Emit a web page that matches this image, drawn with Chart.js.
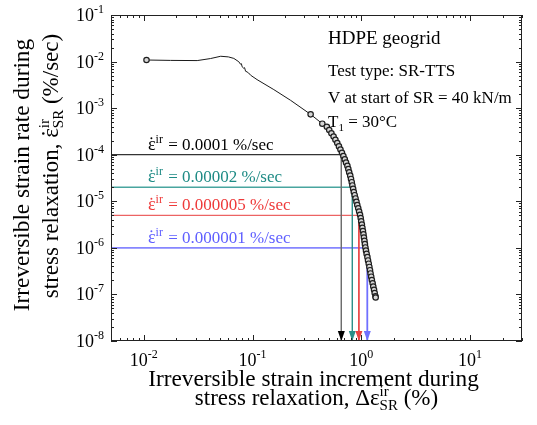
<!DOCTYPE html>
<html>
<head>
<meta charset="utf-8">
<script src="https://cdn.jsdelivr.net/npm/chart.js@4"></script>
<style>
  body { margin: 0; background: #fff; }
  canvas { display: block; }
</style>
</head>
<body>
<canvas id="relaxChart" width="537" height="425"></canvas>
<script>
const SERIF = "'Liberation Serif', 'Times New Roman', serif";

// measured relaxation curve: irreversible strain increment (%) vs strain rate (%/sec)
const curveX = [0.0106, 0.0176, 0.031, 0.041, 0.051, 0.060, 0.0673, 0.0748, 0.0775, 0.079,
  0.0803, 0.083, 0.0845, 0.0863, 0.089, 0.092, 0.096, 0.110, 0.157, 0.224,
  0.342, 0.438, 0.486, 0.556, 0.618, 0.692, 0.748, 0.798, 0.855, 0.895,
  0.970, 1.028, 1.096, 1.167, 1.244, 1.355];
const curveY = [0.0108, 0.0106, 0.0105, 0.0116, 0.0130, 0.0126, 0.0117, 0.0099, 0.0088, 0.0090,
  0.0077, 0.0072, 0.0074, 0.0062, 0.0060, 0.0057, 0.0051, 0.0041, 0.0025, 0.00147,
  7.35e-4, 4.63e-4, 3.92e-4, 2.47e-4, 1.58e-4, 8.8e-5, 5.6e-5, 3.3e-5, 1.56e-5, 1.03e-5,
  5.3e-6, 2.56e-6, 9.4e-7, 4.75e-7, 2.15e-7, 8.6e-8];

// sampled points shown as open circles
const markerX = [0.0106, 0.342, 0.438, 0.482, 0.507, 0.531, 0.556, 0.578, 0.601, 0.623,
  0.643, 0.664, 0.684, 0.705, 0.724, 0.745, 0.760, 0.774, 0.791, 0.804,
  0.817, 0.828, 0.841, 0.853, 0.869, 0.885, 0.902, 0.918, 0.937, 0.955,
  0.973, 0.987, 0.998, 1.012, 1.023, 1.035, 1.047, 1.057, 1.069, 1.079,
  1.091, 1.104, 1.119, 1.138, 1.153, 1.170, 1.186, 1.202, 1.216, 1.233,
  1.250, 1.271, 1.288, 1.309, 1.327, 1.349, 1.355];
const markerY = [0.0108, 7.35e-4, 4.63e-4, 3.98e-4, 3.39e-4, 2.88e-4, 2.45e-4, 2.09e-4, 1.78e-4, 1.51e-4,
  1.29e-4, 1.10e-4, 9.33e-5, 7.94e-5, 6.76e-5, 5.75e-5, 4.90e-5, 4.17e-5, 3.55e-5, 3.02e-5,
  2.57e-5, 2.19e-5, 1.86e-5, 1.58e-5, 1.35e-5, 1.15e-5, 9.77e-6, 8.32e-6, 7.08e-6, 6.03e-6,
  5.13e-6, 4.37e-6, 3.72e-6, 3.16e-6, 2.69e-6, 2.29e-6, 1.95e-6, 1.66e-6, 1.41e-6, 1.20e-6,
  1.02e-6, 8.71e-7, 7.41e-7, 6.31e-7, 5.37e-7, 4.57e-7, 3.89e-7, 3.31e-7, 2.82e-7, 2.40e-7,
  2.04e-7, 1.74e-7, 1.48e-7, 1.26e-7, 1.07e-7, 9.12e-8, 8.6e-8];

// reference strain rates and the strain increment where each is reached
const rateLevels = [1e-4, 2e-5, 5e-6, 1e-6];
const rateLabels = ['0.0001', '0.00002', '0.000005', '0.000001'];
const strainAtRate = [0.655, 0.826, 0.95, 1.135];
const rateTextColors = ['#000000', '#1f8b85', '#ee3a3a', '#5f5fff'];
const rateHorizColors = ['#000000', '#49a59f', '#e83c3c', '#8686ff'];
const rateVertColors = ['#6e6e6e', '#2a8f89', '#e84242', '#7070ff'];

const xRange = [0.005, 30];
const yRange = [1e-8, 1e-1];
const xTickExp = [-2, -1, 0, 1];
const yTickExp = [-8, -7, -6, -5, -4, -3, -2, -1];
const minorMults = [2, 3, 4, 5, 6, 7, 8, 9];

const infoLines = ['HDPE geogrid', 'Test type: SR-TTS', 'V at start of SR = 40 kN/m'];

function font(size) { return `${size}px ${SERIF}`; }

function runAdvance(ctx, r) {
  ctx.font = font(r.size);
  let w;
  if (r.sup !== undefined) {
    w = Math.max(ctx.measureText(r.sup).width, ctx.measureText(r.sub || '').width);
  } else {
    w = ctx.measureText(r.t).width;
  }
  return w + (r.dx || 0);
}

function drawRuns(ctx, runs, x, y, align, color) {
  let w = 0;
  runs.forEach(r => { w += runAdvance(ctx, r); });
  let cx = align === 'center' ? x - w / 2 : align === 'right' ? x - w : x;
  ctx.fillStyle = color;
  ctx.textAlign = 'left';
  ctx.textBaseline = 'alphabetic';
  runs.forEach(r => {
    const adv = runAdvance(ctx, r);
    ctx.font = font(r.size);
    if (r.sup !== undefined) {
      ctx.fillText(r.sup, cx, y - r.up);
      if (r.sub) ctx.fillText(r.sub, cx, y + r.down);
    } else {
      ctx.fillText(r.t, cx, y + (r.dy || 0));
      if (r.dot) {
        const gw = adv - (r.dx || 0);
        ctx.beginPath();
        ctx.arc(cx + gw * 0.45, y - r.size * 0.64, Math.max(0.9, r.size * 0.055), 0, Math.PI * 2);
        ctx.fill();
      }
    }
    cx += adv;
  });
}

const decorPlugin = {
  id: 'decor',
  afterDatasetsDraw(chart) {
    const ctx = chart.ctx;
    const xs = chart.scales.x, ys = chart.scales.y;
    // arrowheads at the bottom of each guide line
    strainAtRate.forEach((sx, i) => {
      const px = xs.getPixelForValue(sx);
      const py = ys.getPixelForValue(yRange[0]);
      ctx.save();
      ctx.fillStyle = i === 0 ? '#000' : rateVertColors[i];
      ctx.beginPath();
      ctx.moveTo(px, py);
      ctx.lineTo(px - 3.5, py - 10);
      ctx.lineTo(px + 3.5, py - 10);
      ctx.closePath();
      ctx.fill();
      ctx.restore();
    });
  },
  afterDraw(chart) {
    const ctx = chart.ctx;
    const a = chart.chartArea;
    const xs = chart.scales.x, ys = chart.scales.y;
    ctx.save();

    // frame
    ctx.strokeStyle = '#222';
    ctx.lineWidth = 1;
    ctx.strokeRect(Math.round(a.left) + 0.5, Math.round(a.top) + 0.5,
      Math.round(a.right - a.left) - 1, Math.round(a.bottom - a.top) - 1);

    // inside tick marks on all four sides
    ctx.beginPath();
    for (let e = -3; e <= 1; e++) {
      [1].concat(minorMults).forEach(m => {
        const v = m * Math.pow(10, e);
        if (v < xRange[0] || v > xRange[1]) return;
        const px = Math.round(xs.getPixelForValue(v)) + 0.5;
        const len = m === 1 ? 6 : 3;
        ctx.moveTo(px, a.bottom); ctx.lineTo(px, a.bottom - len);
        ctx.moveTo(px, a.top); ctx.lineTo(px, a.top + len);
      });
    }
    for (let e = -8; e <= -1; e++) {
      [1].concat(minorMults).forEach(m => {
        const v = m * Math.pow(10, e);
        if (v < yRange[0] || v > yRange[1] * 1.0001) return;
        const py = Math.round(ys.getPixelForValue(v)) + 0.5;
        const len = m === 1 ? 6 : 3;
        ctx.moveTo(a.left, py); ctx.lineTo(a.left + len, py);
        ctx.moveTo(a.right, py); ctx.lineTo(a.right - len, py);
      });
    }
    ctx.stroke();

    // tick labels
    xTickExp.forEach(e => {
      const px = xs.getPixelForValue(Math.pow(10, e));
      drawRuns(ctx, [{ t: '10', size: 18 }, { t: String(e), size: 12, dy: -8 }], px, a.bottom + 25, 'center', '#000');
    });
    yTickExp.forEach(e => {
      const py = ys.getPixelForValue(Math.pow(10, e));
      drawRuns(ctx, [{ t: '10', size: 18 }, { t: String(e), size: 12, dy: -8 }], a.left - 7, py + 6, 'right', '#000');
    });

    // x axis title
    const cxm = (a.left + a.right) / 2;
    drawRuns(ctx, [{ t: 'Irreversible strain increment during', size: 23.3 }], cxm - 3, a.bottom + 45, 'center', '#000');
    drawRuns(ctx, [
      { t: 'stress relaxation, \u0394\u03b5', size: 23 },
      { sup: 'ir', sub: 'SR', size: 15, up: 9, down: 5 },
      { t: ' (%)', size: 23 }
    ], cxm, a.bottom + 64, 'center', '#000');

    // y axis title (rotated)
    const cym = (a.top + a.bottom) / 2;
    ctx.save();
    ctx.translate(29, cym - 3);
    ctx.rotate(-Math.PI / 2);
    drawRuns(ctx, [{ t: 'Irreversible strain rate during', size: 23.3 }], 0, 0, 'center', '#000');
    ctx.restore();
    ctx.save();
    ctx.translate(58, cym - 12);
    ctx.rotate(-Math.PI / 2);
    drawRuns(ctx, [
      { t: 'stress relaxation, ', size: 23 },
      { t: '\u03b5', size: 23, dot: true },
      { sup: 'ir', sub: 'SR', size: 15, up: 9, down: 5 },
      { t: ' (%/sec)', size: 23 }
    ], 0, 0, 'center', '#000');
    ctx.restore();

    // info block
    const ix = 328;
    drawRuns(ctx, [{ t: infoLines[0], size: 19 }], ix, 44, 'left', '#000');
    drawRuns(ctx, [{ t: infoLines[1], size: 17 }], ix, 76, 'left', '#000');
    drawRuns(ctx, [{ t: infoLines[2], size: 17 }], ix, 103, 'left', '#000');
    drawRuns(ctx, [{ t: 'T', size: 17 }, { t: '1', size: 11, dy: 4 }, { t: ' = 30\u00b0C', size: 17 }], ix, 127, 'left', '#000');

    // rate annotations
    rateLevels.forEach((r, i) => {
      const py = ys.getPixelForValue(r);
      drawRuns(ctx, [
        { t: '\u03b5', size: 18, dot: true },
        { t: 'ir', size: 12, dy: -7, dx: 1 },
        { t: ' = ' + rateLabels[i] + ' %/sec', size: 17 }
      ], a.left + 37, py - 5, 'left', rateTextColors[i]);
    });

    ctx.restore();
  }
};

const guideSets = rateLevels.map((r, i) => ({
  data: [
    { x: xRange[0], y: r },
    { x: strainAtRate[i], y: r },
    { x: strainAtRate[i], y: yRange[0] }
  ],
  showLine: true,
  pointRadius: 0,
  borderWidth: i === 3 ? 1.8 : (i === 1 ? 1.4 : 1),
  borderColor: rateHorizColors[i],
  segment: {
    borderColor: c => c.p0DataIndex === 1 ? rateVertColors[i] : rateHorizColors[i]
  },
  order: 3
}));

new Chart(document.getElementById('relaxChart'), {
  type: 'scatter',
  data: {
    datasets: [
      {
        data: markerX.map((x, i) => ({ x: x, y: markerY[i] })),
        pointRadius: 2.7,
        pointBackgroundColor: '#d6d6d6',
        pointBorderColor: '#1e1e1e',
        pointBorderWidth: 1.2,
        showLine: false,
        order: 0
      },
      {
        data: curveX.map((x, i) => ({ x: x, y: curveY[i] })),
        showLine: true,
        pointRadius: 0,
        borderColor: '#1a1a1a',
        borderWidth: 1,
        order: 1
      },
      ...guideSets
    ]
  },
  options: {
    responsive: false,
    animation: false,
    layout: { padding: { left: 111, right: 15, top: 15, bottom: 84 } },
    plugins: { legend: { display: false }, tooltip: { enabled: false } },
    scales: {
      x: { type: 'logarithmic', min: xRange[0], max: xRange[1], display: false },
      y: { type: 'logarithmic', min: yRange[0], max: yRange[1], display: false }
    }
  },
  plugins: [decorPlugin]
});
</script>
</body>
</html>
